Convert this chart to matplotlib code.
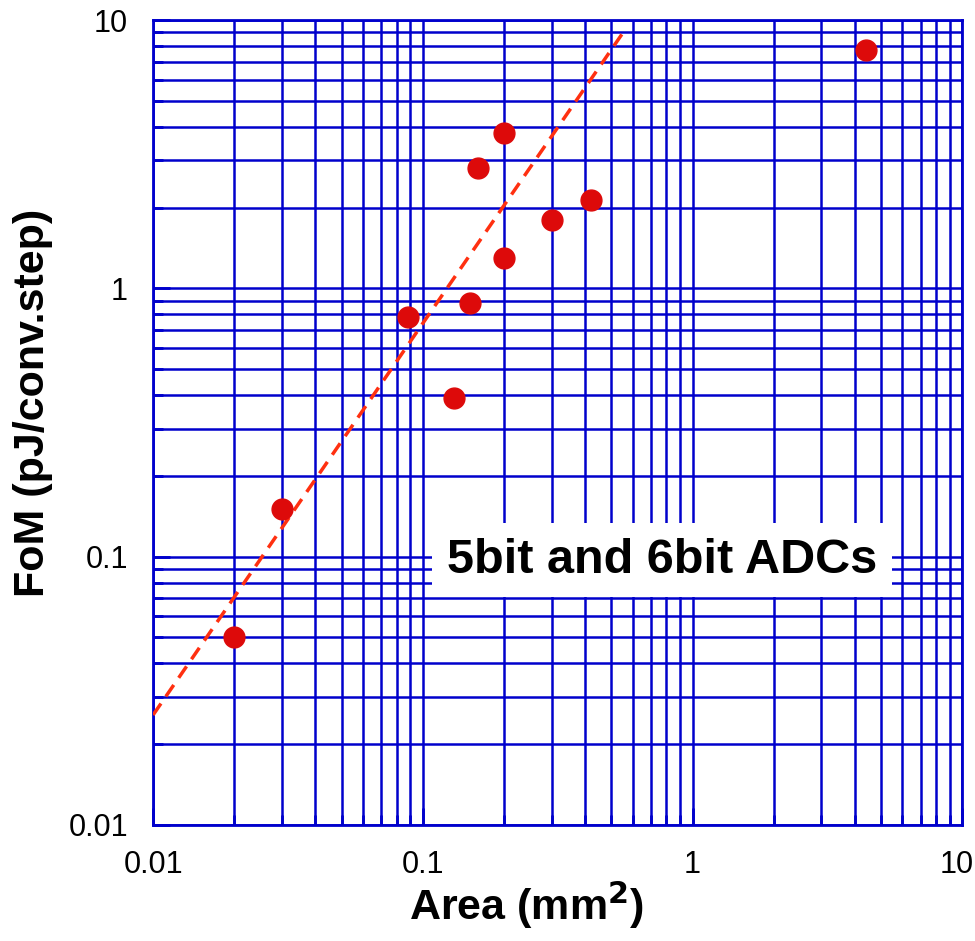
import numpy as np
from matplotlib import pyplot as plt
from matplotlib.ticker import LogLocator, FixedFormatter, FixedLocator
from matplotlib.transforms import ScaledTranslation

plt.rcParams['font.family'] = ['Liberation Sans', 'DejaVu Sans']

area = [0.02, 0.03, 0.088, 0.13, 0.15, 0.16, 0.2, 0.2, 0.3, 0.42, 4.4]
fom = [0.05, 0.15, 0.78, 0.39, 0.88, 2.8, 3.8, 1.3, 1.8, 2.13, 7.7]

fit_x = [0.01, 0.57]
fit_y = [0.0257, 9.4]

tick_vals = [0.01, 0.1, 1, 10]
tick_labels = ['0.01', '0.1', '1', '10']

blue = '#0000CC'

fig = plt.figure(figsize=(9.75, 9.41), dpi=100)
ax = fig.add_axes([0.157, 0.1233, 0.830, 0.8554])
ax.set_xscale('log')
ax.set_yscale('log')
ax.set_xlim(0.01, 10)
ax.set_ylim(0.01, 10)

ax.grid(True, which='both', color=blue, linewidth=1.8)
ax.set_axisbelow(True)
for s in ax.spines.values():
    s.set_color(blue)
    s.set_linewidth(2)

ax.xaxis.set_major_locator(FixedLocator(tick_vals))
ax.xaxis.set_major_formatter(FixedFormatter(tick_labels))
ax.yaxis.set_major_locator(FixedLocator(tick_vals))
ax.yaxis.set_major_formatter(FixedFormatter(tick_labels))
ax.xaxis.set_minor_locator(LogLocator(base=10, subs=np.arange(2, 10)))
ax.yaxis.set_minor_locator(LogLocator(base=10, subs=np.arange(2, 10)))
ax.xaxis.set_minor_formatter(FixedFormatter([]))
ax.yaxis.set_minor_formatter(FixedFormatter([]))
ax.tick_params(which='major', direction='in', length=12, width=2, color=blue,
               labelsize=22, pad=18)
ax.tick_params(which='minor', direction='in', length=7, width=2, color=blue)

# keep the "10" on the x axis inside the figure
fig.canvas.draw()
last = ax.get_xticklabels()[-1]
last.set_transform(last.get_transform() + ScaledTranslation(-6 / 100, 0, fig.dpi_scale_trans))

ax.plot(fit_x, fit_y, linestyle=(0, (4, 2.5)), color='#FF3010', linewidth=2.5, zorder=3)
ax.plot(area, fom, 'o', color='#DD0A0A', markersize=15, zorder=4)

ax.text(0.77, 0.097, '5bit and 6bit ADCs', fontsize=35, fontweight='bold',
        ha='center', va='center', zorder=5,
        bbox=dict(facecolor='white', edgecolor='none', boxstyle='square,pad=0.3'))

ax.set_xlabel('Area (mm$^\\mathbf{2}$)', fontsize=31, fontweight='bold')
ax.xaxis.set_label_coords(0.462, -0.068)
ax.set_ylabel('FoM (pJ/conv.step)', fontsize=31, fontweight='bold')
ax.yaxis.set_label_coords(-0.124, 0.524)

fig.savefig('out.png', dpi=100)
